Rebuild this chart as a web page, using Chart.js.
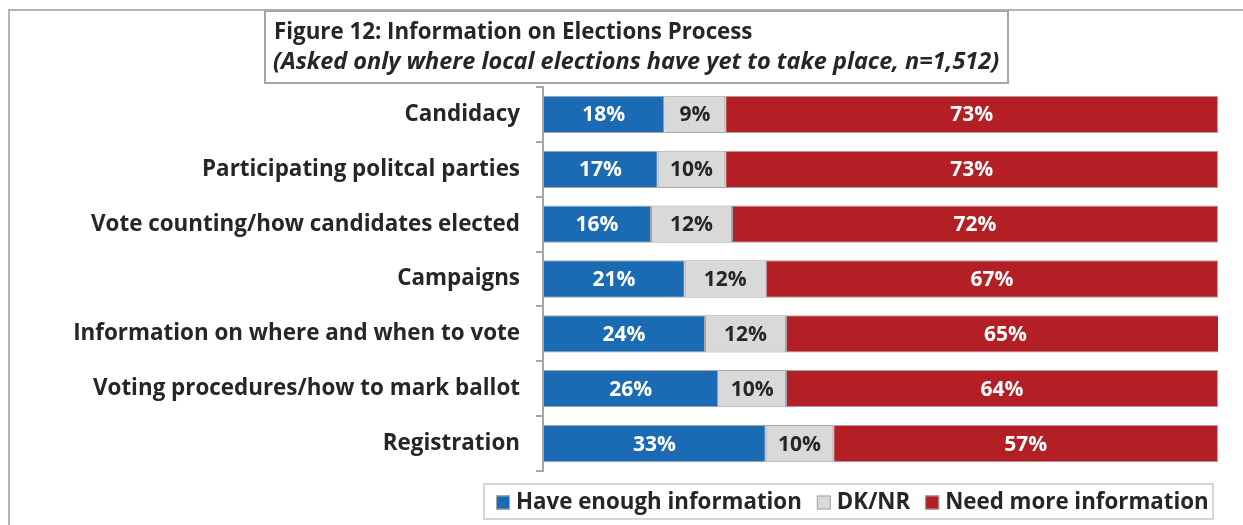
<!DOCTYPE html>
<html>
<head>
<meta charset="utf-8">
<script src="https://cdn.jsdelivr.net/npm/chart.js@4.4.1/dist/chart.umd.min.js"></script>
<style>
  html, body { margin: 0; padding: 0; background: #ffffff; }
  #wrap { width: 1243px; height: 525px; position: relative; }
</style>
</head>
<body>
<div id="wrap"><canvas id="chart" width="1243" height="525"></canvas></div>
<script>
// Survey topics and answer shares (%)
const categories = [
  'Candidacy',
  'Participating politcal parties',
  'Vote counting/how candidates elected',
  'Campaigns',
  'Information on where and when to vote',
  'Voting procedures/how to mark ballot',
  'Registration'
];
const haveEnough = [18, 17, 16, 21, 24, 26, 33];
const dkNr       = [9, 10, 12, 12, 12, 10, 10];
const needMore   = [73, 73, 72, 67, 65, 64, 57];
const seriesNames = ['Have enough information', 'DK/NR', 'Need more information'];
const titleLines = [
  'Figure 12: Information on Elections Process',
  '(Asked only where local elections have yet to take place, n=1,512)'
];

const FONT = '"Open Sans", "Noto Sans", sans-serif';
const TEXT = '#262626';
const EDGE = '#A6A6A6';
const colors = ['#1B6AB4', '#D9D9D9', '#B31F25'];
const labelColors = ['#ffffff', '#262626', '#ffffff'];

// Frame around the figure and the boxed title
const framePlugin = {
  id: 'frame',
  beforeDraw(chart) {
    const ctx = chart.ctx;
    ctx.save();
    ctx.strokeStyle = '#B4B4B4';
    ctx.lineWidth = 2;
    ctx.beginPath();
    ctx.moveTo(9, 530);
    ctx.lineTo(9, 10);
    ctx.lineTo(1250, 10);
    ctx.stroke();

    ctx.fillStyle = '#ffffff';
    ctx.fillRect(265, 11, 743, 72);
    ctx.strokeStyle = EDGE;
    ctx.lineWidth = 2;
    ctx.strokeRect(265, 11, 743, 72);

    ctx.fillStyle = TEXT;
    ctx.textAlign = 'left';
    ctx.textBaseline = 'middle';
    ctx.font = 'bold 22.3px ' + FONT;
    ctx.fillText(titleLines[0], 274, 33);
    ctx.font = 'italic bold 23.5px ' + FONT;
    ctx.fillText(titleLines[1], 273, 62);
    ctx.restore();
  }
};

// Percent labels centred in every segment
const valueLabels = {
  id: 'valueLabels',
  afterDatasetsDraw(chart) {
    const ctx = chart.ctx;
    ctx.save();
    ctx.font = 'bold 21px ' + FONT;
    ctx.textAlign = 'center';
    ctx.textBaseline = 'middle';
    chart.data.datasets.forEach((ds, i) => {
      const meta = chart.getDatasetMeta(i);
      meta.data.forEach((bar, j) => {
        ctx.fillStyle = labelColors[i];
        ctx.fillText(ds.data[j] + '%', (bar.x + bar.base) / 2, bar.y + 1);
      });
    });
    ctx.restore();
  }
};

// Boxed legend below the bars
const boxLegend = {
  id: 'boxLegend',
  afterDraw(chart) {
    const ctx = chart.ctx;
    const box = { x: 484, y: 484, w: 729, h: 35 };
    ctx.save();
    ctx.strokeStyle = '#C8C8C8';
    ctx.lineWidth = 1.5;
    ctx.strokeRect(box.x, box.y, box.w, box.h);
    ctx.font = 'bold 22.3px ' + FONT;
    ctx.textBaseline = 'middle';
    ctx.textAlign = 'left';
    let x = box.x + 12;
    const cy = box.y + box.h / 2 + 1;
    chart.data.datasets.forEach((ds, i) => {
      ctx.fillStyle = ds.backgroundColor;
      ctx.fillRect(x, cy - 7, 14, 14);
      ctx.strokeStyle = EDGE;
      ctx.lineWidth = 1;
      ctx.strokeRect(x + 0.5, cy - 6.5, 13, 13);
      x += 20;
      ctx.fillStyle = TEXT;
      ctx.fillText(ds.label, x, cy);
      x += ctx.measureText(ds.label).width + 15;
    });
    ctx.restore();
  }
};

const makeSet = (label, data, i) => ({
  label,
  data,
  backgroundColor: colors[i],
  borderColor: EDGE,
  borderWidth: 1,
  borderSkipped: false,
  barPercentage: 0.68,
  categoryPercentage: 1.0
});

new Chart(document.getElementById('chart'), {
  type: 'bar',
  data: {
    labels: categories,
    datasets: [
      makeSet(seriesNames[0], haveEnough, 0),
      makeSet(seriesNames[1], dkNr, 1),
      makeSet(seriesNames[2], needMore, 2)
    ]
  },
  options: {
    indexAxis: 'y',
    responsive: false,
    animation: false,
    devicePixelRatio: 1,
    layout: { padding: { left: 0, right: 25, top: 87, bottom: 54 } },
    plugins: {
      legend: { display: false },
      title: { display: false },
      tooltip: { enabled: false }
    },
    scales: {
      x: { stacked: true, min: 0, max: 100, display: false },
      y: {
        stacked: true,
        afterFit(scale) { scale.width = 543; },
        border: { display: true, color: EDGE, width: 2 },
        grid: {
          offset: true,
          drawOnChartArea: false,
          drawTicks: true,
          tickLength: 7,
          color: EDGE,
          lineWidth: 2
        },
        ticks: {
          padding: 16,
          color: TEXT,
          font: { family: FONT, size: 22.4, weight: 'bold' }
        }
      }
    }
  },
  plugins: [framePlugin, valueLabels, boxLegend]
});
</script>
</body>
</html>
